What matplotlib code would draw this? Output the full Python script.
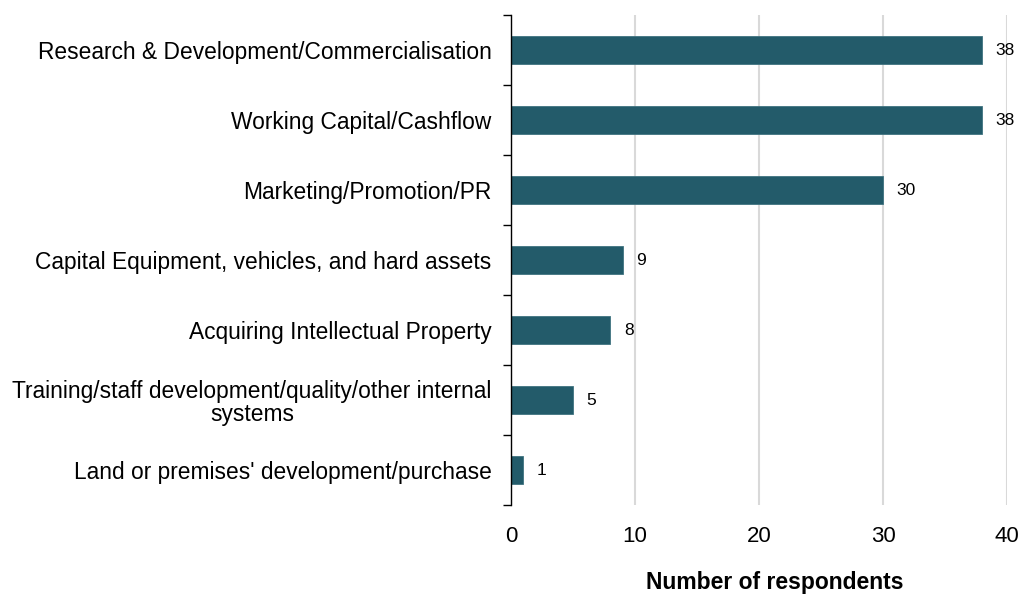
import matplotlib.pyplot as plt

plt.rcParams['font.family'] = ['Liberation Sans', 'DejaVu Sans']

categories = [
    "Research & Development/Commercialisation",
    "Working Capital/Cashflow",
    "Marketing/Promotion/PR",
    "Capital Equipment, vehicles, and hard assets",
    "Acquiring Intellectual Property",
    "Training/staff development/quality/other internal\nsystems",
    "Land or premises' development/purchase",
]
values = [38, 38, 30, 9, 8, 5, 1]
xticks = [0, 10, 20, 30, 40]

bar_color = '#235B6A'

fig = plt.figure(figsize=(10.19, 5.96), dpi=100)
ax = fig.add_axes([511 / 1019, 1 - 505 / 596, 496 / 1019, 490 / 596])

ypos = list(range(len(categories)))
ax.barh(ypos, values, height=0.4, color=bar_color, edgecolor='#3f7380', linewidth=0.6, zorder=3)

for y, v in zip(ypos, values):
    ax.text(v + 1.1, y, str(v), va='center', ha='left', fontsize=12.5, color='#000000')

ax.set_ylim(len(categories) - 0.5, -0.5)
ax.set_xlim(0, 40)
ax.set_xticks(xticks)
ax.set_xticklabels([str(t) for t in xticks], fontsize=16)
ax.tick_params(axis='x', length=0, pad=15)

ax.set_yticks(ypos)
ax.set_yticklabels(categories, fontsize=16.4)
ax.set_yticks([y - 0.5 for y in range(len(categories) + 1)], minor=True)
ax.tick_params(axis='y', which='major', length=0, pad=14)
ax.tick_params(axis='y', which='minor', length=6, width=1, color='#000000')
for lab in ax.get_yticklabels():
    lab.set_multialignment('center')
    lab.set_linespacing(1.05)

ax.grid(axis='x', color='#d9d9d9', linewidth=1.5, zorder=0)
for s in ['top', 'right', 'bottom']:
    ax.spines[s].set_visible(False)
ax.spines['left'].set_linewidth(1)
ax.spines['left'].set_zorder(4)

fig.text(775 / 1019, 1 - 583 / 596, 'Number of respondents', ha='center', va='center',
         fontsize=16.5, fontweight='bold')

fig.savefig('out.png', dpi=100)
